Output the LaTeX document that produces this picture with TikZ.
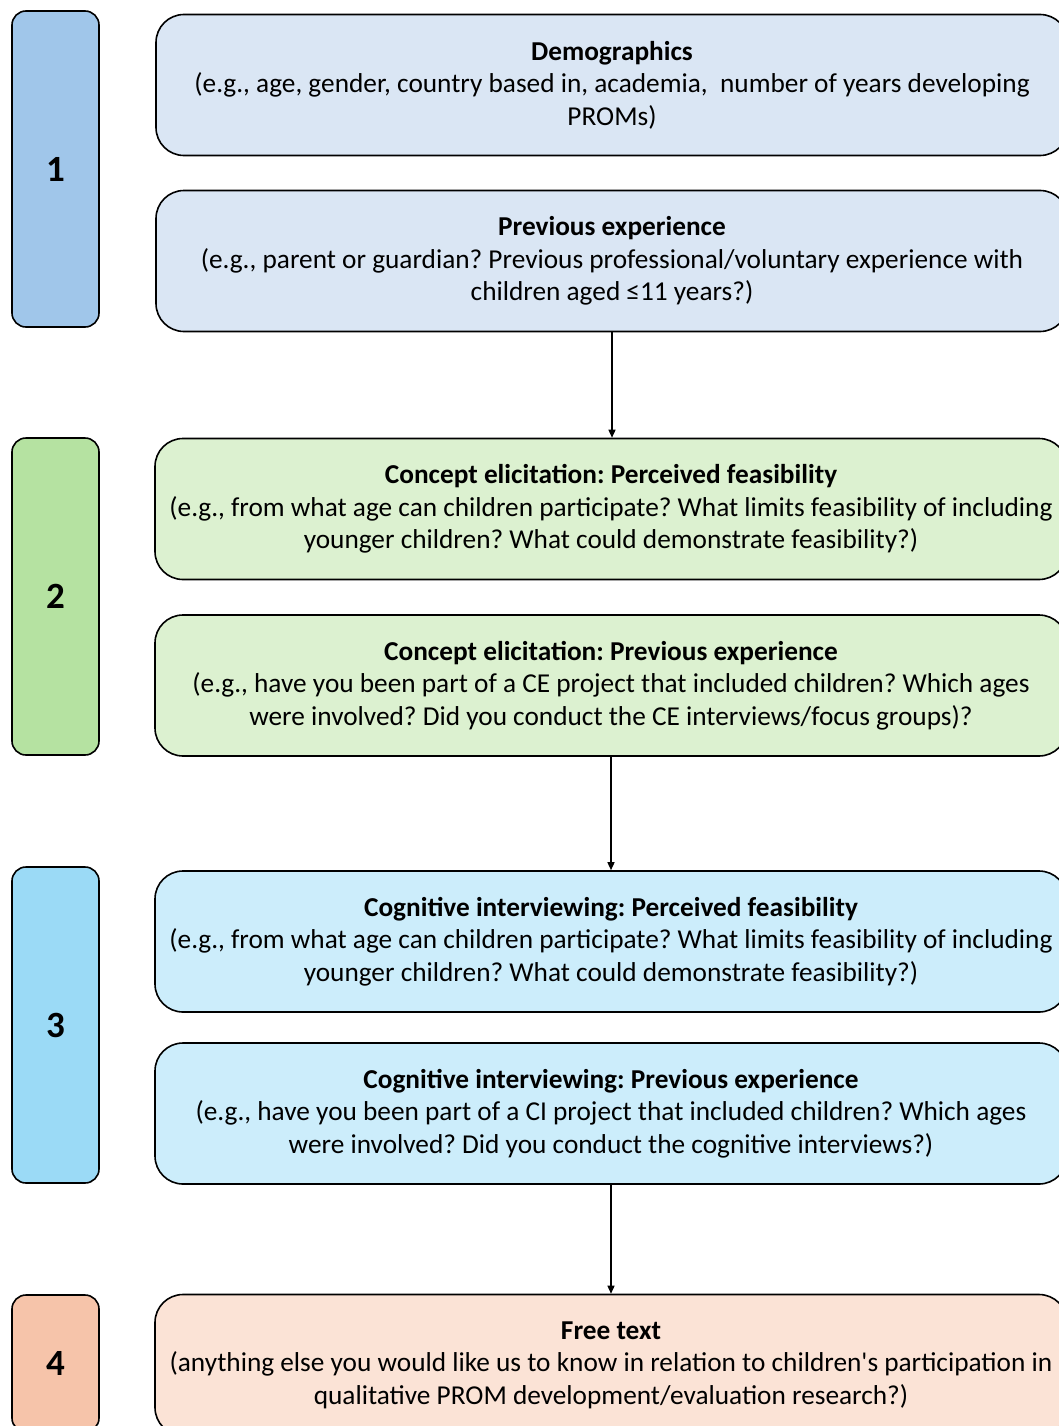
\documentclass[tikz,border=0pt]{standalone}
\usepackage{fontspec}
\setmainfont{Carlito}
\usetikzlibrary{arrows.meta}
\frenchspacing

\definecolor{blueA}{RGB}{160,198,234}
\definecolor{blueB}{RGB}{218,230,244}
\definecolor{greenA}{RGB}{181,226,161}
\definecolor{greenB}{RGB}{220,241,208}
\definecolor{cyanA}{RGB}{155,218,246}
\definecolor{cyanB}{RGB}{204,237,251}
\definecolor{peachA}{RGB}{246,196,170}
\definecolor{peachB}{RGB}{251,227,214}

\tikzset{
  stagebox/.style={draw=black, line width=1.6pt, rounded corners=14pt,
    minimum width=87pt, inner sep=0pt,
    font=\fontsize{37}{40}\selectfont\bfseries},
  infobox/.style={draw=black, line width=1.6pt, rounded corners=28pt,
    minimum width=912pt, minimum height=141pt, align=center,
    font=\fontsize{27.3}{32.5}\selectfont},
  flow/.style={line width=1.4pt, -{Triangle[length=8pt,width=7pt]}},
}

\begin{document}
\begin{tikzpicture}[x=1pt,y=-1pt]
  \useasboundingbox (0,0) rectangle (1059,1426);
  \clip (0,0) rectangle (1059,1426);

  % stage numbers on the left
  \node[stagebox, fill=blueA,  minimum height=316pt] (s1) at (55.5,169) {1};
  \node[stagebox, fill=greenA, minimum height=317pt] (s2) at (55.5,596.5) {2};
  \node[stagebox, fill=cyanA,  minimum height=316pt] (s3) at (55.5,1025) {3};
  \node[stagebox, fill=peachA, minimum height=137pt] (s4) at (55.5,1363.5) {4};

  % question blocks
  \node[infobox, fill=blueB] (demo) at (612,85)
    {\textbf{Demographics}\\
     (e.g., age, gender, country based in, academia, \ number of years developing\\
     PROMs)};
  \node[infobox, fill=blueB] (prevexp) at (612,261)
    {\textbf{Previous experience}\\
     (e.g., parent or guardian? Previous professional/voluntary experience with\\
     children aged ≤11 years?)};
  \node[infobox, fill=greenB] (cefeas) at (611,509)
    {\textbf{Concept elicitation: Perceived feasibility}\\
     (e.g., from what age can children participate? What limits feasibility of including\\
     younger children? What could demonstrate feasibility?)};
  \node[infobox, fill=greenB] (ceexp) at (611,685.5)
    {\textbf{Concept elicitation: Previous experience}\\
     (e.g., have you been part of a CE project that included children? Which ages\\
     were involved? Did you conduct the CE interviews/focus groups)?};
  \node[infobox, fill=cyanB] (cifeas) at (611,941.5)
    {\textbf{Cognitive interviewing: Perceived feasibility}\\
     (e.g., from what age can children participate? What limits feasibility of including\\
     younger children? What could demonstrate feasibility?)};
  \node[infobox, fill=cyanB] (ciexp) at (611,1113.5)
    {\textbf{Cognitive interviewing: Previous experience}\\
     (e.g., have you been part of a CI project that included children? Which ages\\
     were involved? Did you conduct the cognitive interviews?)};
  \node[infobox, fill=peachB] (free) at (611,1365)
    {\textbf{Free text}\\
     (anything else you would like us to know in relation to children\textquotesingle s participation in\\
     qualitative PROM development/evaluation research?)};

  \draw[flow] (prevexp.south) -- (prevexp.south |- cefeas.north);
  \draw[flow] (ceexp) -- (cifeas);
  \draw[flow] (ciexp) -- (free);
\end{tikzpicture}
\end{document}
